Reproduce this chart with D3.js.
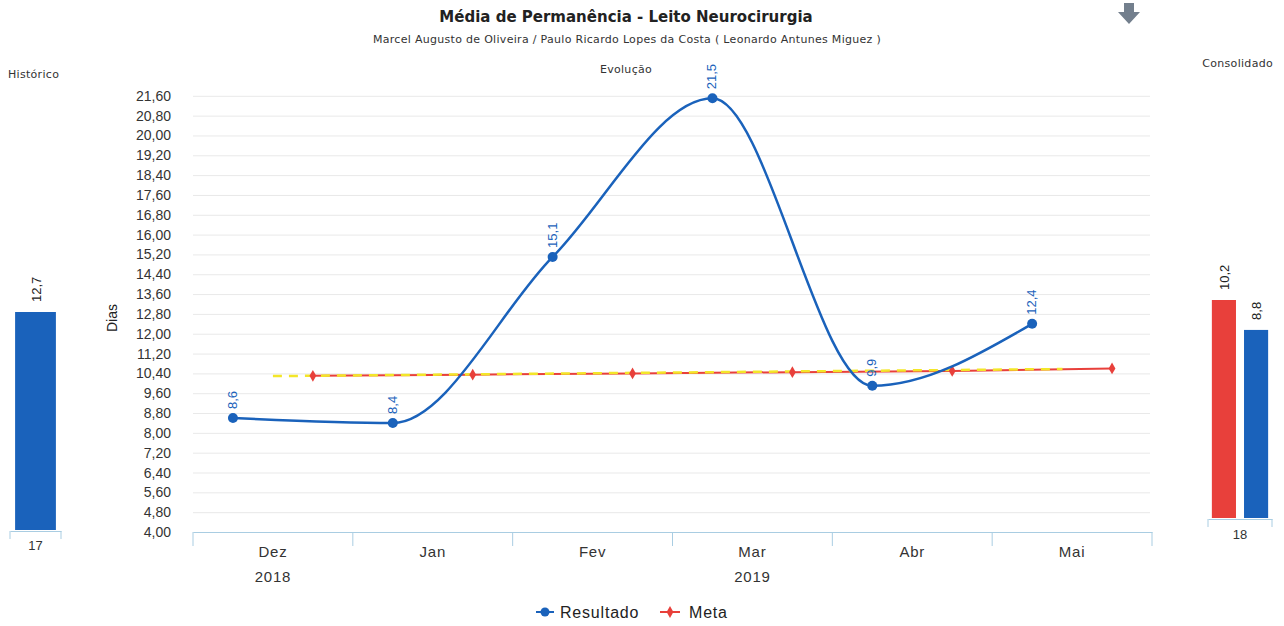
<!DOCTYPE html>
<html>
<head>
<meta charset="utf-8">
<script src="https://cdn.jsdelivr.net/npm/d3@7"></script>
<style>
  body { margin: 0; background: #fff; }
  svg { display: block; font-family: "Liberation Sans", Arial, sans-serif; }
  .wide { font-family: "DejaVu Sans", Verdana, sans-serif; }
  .small { font-size: 11px; letter-spacing: 0.3px; }
  .cat { font-family: "Liberation Sans Narrow", "Liberation Sans", Arial, sans-serif; letter-spacing: 0.8px; }
</style>
</head>
<body>
<svg id="chart" width="1284" height="626"></svg>
<script>
// data
var months = ["Dez", "Jan", "Fev", "Mar", "Abr", "Mai"];
var yearLabels = ["2018", "2019"];
var yearFirst = [0, 1];   // index of first month of each year
var yearLast = [0, 5];
var resultado = [8.6, 8.4, 15.1, 21.5, 9.9, 12.4];
var meta = [10.3, 10.35, 10.4, 10.45, 10.5, 10.6];
var yTicks = d3.range(4, 21.61, 0.8);

var histCats = ["17"];
var histValues = [12.7];

var consCats = ["18"];
var consSeries = ["Meta", "Resultado"];
var consValues = [10.2, 8.8];

var blue = "#1a62bb", red = "#e8403b", yellow = "#f3e629", axisBlue = "#a9cde2";

var br = d3.formatLocale({decimal: ",", thousands: ".", grouping: [3], currency: ["R$", ""]});
var fmt2 = br.format(".2f"), fmt1 = br.format(".1f");

var svg = d3.select("#chart");

// titles
svg.append("text").attr("class", "wide").attr("x", 626).attr("y", 22).attr("text-anchor", "middle")
  .attr("font-size", 15).attr("font-weight", "bold").attr("fill", "#222")
  .text("Média de Permanência - Leito Neurocirurgia");
svg.append("text").attr("class", "wide small").attr("x", 627).attr("y", 43).attr("text-anchor", "middle")
  .attr("fill", "#333")
  .text("Marcel Augusto de Oliveira / Paulo Ricardo Lopes da Costa ( Leonardo Antunes Miguez )");
svg.append("text").attr("class", "wide small").attr("x", 626).attr("y", 73).attr("text-anchor", "middle")
  .attr("fill", "#333").text("Evolução");
svg.append("text").attr("class", "wide small").attr("x", 8).attr("y", 78).attr("fill", "#333").text("Histórico");
svg.append("text").attr("class", "wide small").attr("x", 1273).attr("y", 67).attr("text-anchor", "end")
  .attr("fill", "#333").text("Consolidado");

// grey down arrow
svg.append("path")
  .attr("d", "M1124,3 L1134,3 L1134,12 L1140,12 L1129,24 L1118,12 L1124,12 Z")
  .attr("fill", "#737f8d");

// main chart scales
var x = d3.scaleBand().domain(months).range([193, 1152]);
var bw = x.bandwidth();
var y = d3.scaleLinear().domain([4, 22.4]).range([532, 76]);

// gridlines + y ticks
var yAxis = svg.append("g").attr("transform", "translate(193,0)")
  .call(d3.axisLeft(y).tickValues(yTicks).tickFormat(fmt2).tickSize(-957).tickPadding(22));
yAxis.select(".domain").remove();
yAxis.selectAll(".tick line").attr("stroke", "#e9e9e9");
yAxis.selectAll(".tick text").attr("font-size", 14).attr("fill", "#333")
  .attr("font-family", "Liberation Sans, Arial, sans-serif");

svg.append("text").attr("transform", "translate(117,318) rotate(-90)")
  .attr("text-anchor", "middle").attr("font-size", 14).attr("fill", "#222").text("Dias");

// x axis
var xAxis = svg.append("g").attr("transform", "translate(0,532)")
  .call(d3.axisBottom(x).tickSize(0).tickPadding(14));
xAxis.select(".domain").attr("stroke", axisBlue);
xAxis.selectAll(".tick text").attr("class", "cat").attr("font-size", 15).attr("fill", "#333");
var bounds = months.map(function (m) { return x(m); }).concat([x.range()[1]]);
svg.append("g").selectAll("line").data(bounds).join("line")
  .attr("x1", function (d) { return d; }).attr("x2", function (d) { return d; })
  .attr("y1", 532).attr("y2", 546).attr("stroke", axisBlue);

svg.append("g").selectAll("text").data(yearLabels).join("text")
  .attr("class", "cat")
  .attr("x", function (d, i) { return (x(months[yearFirst[i]]) + x(months[yearLast[i]]) + bw) / 2; })
  .attr("y", 582).attr("text-anchor", "middle").attr("font-size", 15).attr("fill", "#333")
  .text(function (d) { return d; });

// meta line (red, solid)
var metaX = function (d, i) { return x(months[i]) + bw * 0.75; };
svg.append("path").datum(meta)
  .attr("d", d3.line().x(metaX).y(function (d) { return y(d); }))
  .attr("fill", "none").attr("stroke", red).attr("stroke-width", 2);

// meta trend (yellow dashed, on top of the red line)
var n = meta.length, xs = d3.range(n);
var mx = d3.mean(xs), my = d3.mean(meta);
var slope = d3.sum(xs, function (i) { return (i - mx) * (meta[i] - my); }) / d3.sum(xs, function (i) { return (i - mx) * (i - mx); });
var trendStart = my - slope * mx, trendEnd = my + slope * (n - 1 - mx);
svg.append("line")
  .attr("x1", x(months[0]) + bw * 0.5).attr("x2", x(months[n - 1]) + bw * 0.44)
  .attr("y1", y(trendStart)).attr("y2", y(trendEnd))
  .attr("stroke", yellow).attr("stroke-width", 2.5).attr("stroke-dasharray", "9,7");

svg.append("g").selectAll("path").data(meta).join("path")
  .attr("transform", function (d, i) { return "translate(" + metaX(d, i) + "," + y(d) + ")"; })
  .attr("d", d3.symbol(d3.symbolDiamond, 40)).attr("fill", red);

// resultado line
var resX = function (d, i) { return x(months[i]) + bw * 0.25; };
svg.append("path").datum(resultado)
  .attr("d", d3.line().x(resX).y(function (d) { return y(d); }).curve(d3.curveMonotoneX))
  .attr("fill", "none").attr("stroke", blue).attr("stroke-width", 2.5);
svg.append("g").selectAll("circle").data(resultado).join("circle")
  .attr("cx", resX).attr("cy", function (d) { return y(d); }).attr("r", 5).attr("fill", blue);
svg.append("g").selectAll("text").data(resultado).join("text")
  .attr("transform", function (d, i) { return "translate(" + (resX(d, i) + 4) + "," + (y(d) - 9) + ") rotate(-90)"; })
  .attr("font-size", 13).attr("fill", blue).text(function (d) { return fmt1(d); });

// legend
var lg = svg.append("g");
lg.append("line").attr("x1", 536).attr("x2", 554).attr("y1", 612).attr("y2", 612).attr("stroke", blue).attr("stroke-width", 2);
lg.append("circle").attr("cx", 545).attr("cy", 612).attr("r", 4.5).attr("fill", blue);
lg.append("text").attr("class", "cat").attr("x", 560).attr("y", 618).attr("font-size", 16).attr("fill", "#222").text("Resultado");
lg.append("line").attr("x1", 660).attr("x2", 680).attr("y1", 612).attr("y2", 612).attr("stroke", red).attr("stroke-width", 2);
lg.append("path").attr("transform", "translate(670,612)").attr("d", d3.symbol(d3.symbolDiamond, 40)).attr("fill", red);
lg.append("text").attr("class", "cat").attr("x", 689).attr("y", 618).attr("font-size", 16).attr("fill", "#222").text("Meta");

// Histórico panel
var hx = d3.scaleBand().domain(histCats).range([10, 61]).paddingInner(0.2).paddingOuter(0.1);
var hy = d3.scaleLinear().domain([0, d3.max(histValues)]).range([530, 312]);
svg.append("g").selectAll("rect").data(histValues).join("rect")
  .attr("x", function (d, i) { return hx(histCats[i]); }).attr("width", hx.bandwidth())
  .attr("y", function (d) { return hy(d); }).attr("height", function (d) { return 530 - hy(d); })
  .attr("fill", blue);
svg.append("g").selectAll("text").data(histValues).join("text")
  .attr("transform", function (d, i) { return "translate(" + (hx(histCats[i]) + hx.bandwidth() / 2 + 5) + "," + (hy(d) - 10) + ") rotate(-90)"; })
  .attr("font-size", 13).attr("fill", "#222").text(function (d) { return fmt1(d); });
var hAxis = svg.append("g").attr("transform", "translate(0,531)")
  .call(d3.axisBottom(hx).tickSize(0).tickPadding(10));
hAxis.select(".domain").attr("stroke", axisBlue);
hAxis.selectAll(".tick text").attr("font-size", 13).attr("fill", "#333");
svg.append("g").selectAll("line").data(hx.range()).join("line")
  .attr("x1", function (d) { return d; }).attr("x2", function (d) { return d; })
  .attr("y1", 531).attr("y2", 539).attr("stroke", axisBlue);

// Consolidado panel
var cx = d3.scaleBand().domain(consCats).range([1208, 1272]);
var cs = d3.scaleBand().domain(consSeries).range([0, cx.bandwidth()]).paddingInner(0.25).paddingOuter(0.12);
var cy = d3.scaleLinear().domain([0, d3.max(consValues)]).range([518, 300]);
var consColor = d3.scaleOrdinal().domain(consSeries).range([red, blue]);
svg.append("g").selectAll("rect").data(consValues).join("rect")
  .attr("x", function (d, i) { return cx(consCats[0]) + cs(consSeries[i]); }).attr("width", cs.bandwidth())
  .attr("y", function (d) { return cy(d); }).attr("height", function (d) { return 518 - cy(d); })
  .attr("fill", function (d, i) { return consColor(consSeries[i]); });
svg.append("g").selectAll("text").data(consValues).join("text")
  .attr("transform", function (d, i) { return "translate(" + (cx(consCats[0]) + cs(consSeries[i]) + cs.bandwidth() / 2 + 5) + "," + (cy(d) - 10) + ") rotate(-90)"; })
  .attr("font-size", 13).attr("fill", "#222").text(function (d) { return fmt1(d); });
var cAxis = svg.append("g").attr("transform", "translate(0,519)")
  .call(d3.axisBottom(cx).tickSize(0).tickPadding(11));
cAxis.select(".domain").attr("stroke", axisBlue);
cAxis.selectAll(".tick text").attr("font-size", 13).attr("fill", "#333");
svg.append("g").selectAll("line").data(cx.range()).join("line")
  .attr("x1", function (d) { return d; }).attr("x2", function (d) { return d; })
  .attr("y1", 519).attr("y2", 527).attr("stroke", axisBlue);
</script>
</body>
</html>
